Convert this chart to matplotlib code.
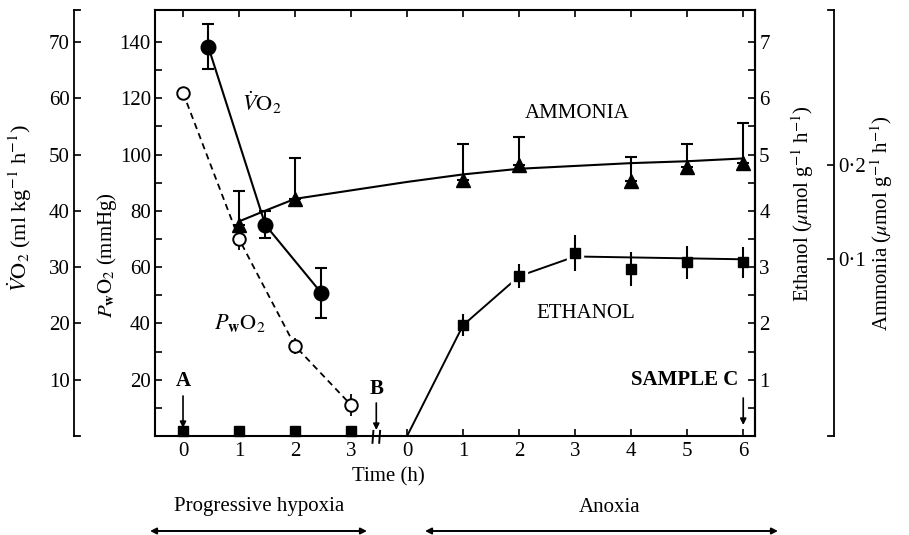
import matplotlib
matplotlib.use('Agg')
import matplotlib.pyplot as plt
from matplotlib.lines import Line2D
import matplotlib.transforms as mtransforms

plt.rcParams['font.family'] = ['Liberation Serif', 'DejaVu Serif']
plt.rcParams['mathtext.fontset'] = 'stix'
plt.rcParams['font.size'] = 15

# ---------------- data ----------------
# x position: hypoxia hours 0-3, anoxia hours drawn after the axis break (anoxia 0 -> 4)
x_ticks = [0, 1, 2, 3, 4, 5, 6, 7, 8, 9, 10]
x_tick_labels = ['0', '1', '2', '3', '0', '1', '2', '3', '4', '5', '6']

# Water PO2 (open circles, mmHg)
pwo2_x = [0, 1, 2, 3]
pwo2 = [122, 70, 32, 11]
pwo2_err = [0, 4, 3, 4]

# O2 uptake (filled circles, ml kg-1 h-1)
vo2_x = [0.45, 1.47, 2.47]
vo2 = [69.2, 37.5, 25.4]
vo2_err = [4.0, 2.4, 4.5]

# Ammonia (filled triangles, umol g-1 h-1)
amm_x = [1, 2, 5, 6, 8, 9, 10]
amm = [0.136, 0.1635, 0.184, 0.200, 0.183, 0.198, 0.202]
amm_err = [0.036, 0.044, 0.038, 0.030, 0.025, 0.024, 0.043]
amm_fit_x = [1, 1.45, 2, 3, 4, 5, 6, 7, 8, 9, 10]
amm_fit = [0.140, 0.151, 0.164, 0.173, 0.182, 0.190, 0.196, 0.199, 0.202, 0.204, 0.207]

# Ethanol (filled squares, umol g-1 h-1)
eth_hyp_x = [0, 1, 2, 3]
eth_hyp = [0.08, 0.08, 0.08, 0.08]
eth_x = [5, 6, 7, 8, 9, 10]
eth = [1.97, 2.84, 3.245, 2.97, 3.085, 3.085]
eth_err = [0.19, 0.21, 0.32, 0.30, 0.29, 0.28]
eth_fit_x = [4, 5, 6, 7, 10]
eth_fit = [0.0, 1.97, 2.84, 3.19, 3.14]

pwo2_ticks = [20, 40, 60, 80, 100, 120, 140]
pwo2_minor = [10, 30, 50, 70, 90, 110, 130]
vo2_ticks = [10, 20, 30, 40, 50, 60, 70]
eth_ticks = [1, 2, 3, 4, 5, 6, 7]
eth_minor = [0.5, 1.5, 2.5, 3.5, 4.5, 5.5, 6.5]
amm_ticks = [0.1, 0.2]
amm_tick_labels = ['0\u00b71', '0\u00b72']

# ---------------- figure ----------------
W, H = 909, 535
fig = plt.figure(figsize=(W / 100, H / 100), dpi=100)
L, R, T, B = 155, 755, 10, 436
ax = fig.add_axes([L / W, 1 - B / H, (R - L) / W, (B - T) / H])

def fx(x):
    return x / W

def fy(y):
    return 1 - y / H

P_TOP = 151.4
ax.set_xlim(-0.5, 10.21)
ax.set_ylim(0, P_TOP)

lw_sp = 1.5
for s in ax.spines.values():
    s.set_linewidth(lw_sp)

ax.set_xticks(x_ticks)
ax.set_xticklabels(x_tick_labels)
ax.set_yticks(pwo2_ticks)
ax.set_yticks(pwo2_minor, minor=True)
ax.tick_params(axis='x', direction='in', top=True, bottom=True, length=5, width=1.2, pad=4)
ax.tick_params(axis='y', which='both', direction='in', left=True, right=False, length=5, width=1.2, pad=3)

# VO2 axis (outer left)
axv = ax.twinx()
axv.set_ylim(0, P_TOP / 2)
axv.patch.set_visible(False)
for k in ['right', 'top', 'bottom']:
    axv.spines[k].set_visible(False)
axv.spines['left'].set_visible(True)
axv.spines['left'].set_position(('axes', (74 - L) / (R - L)))
axv.spines['left'].set_linewidth(1.3)
axv.yaxis.set_ticks_position('left')
axv.set_yticks(vo2_ticks)
axv.tick_params(axis='y', direction='in', length=5, width=1.2, pad=3)

# Ethanol axis (right spine)
axe = ax.twinx()
axe.set_ylim(0, P_TOP / 20)
axe.patch.set_visible(False)
for k in ['left', 'top', 'bottom']:
    axe.spines[k].set_visible(False)
axe.spines['right'].set_linewidth(lw_sp)
axe.set_yticks(eth_ticks)
axe.set_yticks(eth_minor, minor=True)
axe.tick_params(axis='y', which='both', direction='in', length=5, width=1.2, pad=3)

# Ammonia axis (outer right)
axa = ax.twinx()
a_lo = 0.1 + (259 - B) / 940.0
a_hi = 0.1 + (259 - T) / 940.0
axa.set_ylim(a_lo, a_hi)
axa.patch.set_visible(False)
for k in ['left', 'top', 'bottom']:
    axa.spines[k].set_visible(False)
axa.spines['right'].set_position(('axes', (834 - L) / (R - L)))
axa.spines['right'].set_linewidth(1.3)
axa.set_yticks(amm_ticks)
axa.set_yticklabels(amm_tick_labels)
axa.tick_params(axis='y', direction='in', length=5, width=1.2, pad=3)

# bracket serifs on the free-standing axes
xv = (74 - L) / (R - L)
xa = (834 - L) / (R - L)
d = 6 / (R - L)
for yy in (0, 1):
    ax.add_line(Line2D([xv, xv + d], [yy, yy], transform=ax.transAxes, color='black', lw=1.3, clip_on=False))
    ax.add_line(Line2D([xa - d, xa], [yy, yy], transform=ax.transAxes, color='black', lw=1.3, clip_on=False))

# ---------------- data marks ----------------
# PwO2
ax.plot(pwo2_x, pwo2, color='black', lw=1.3, ls=(0, (3.5, 2.5)), zorder=2)
ax.errorbar(pwo2_x, pwo2, yerr=pwo2_err, fmt='none', ecolor='black', elinewidth=1.3, capsize=0, zorder=3)
ax.plot(pwo2_x, pwo2, ls='none', marker='o', ms=9, mfc='white', mec='black', mew=1.4, zorder=4)

# VO2
axv.plot(vo2_x, vo2, color='black', lw=1.5, zorder=2)
axv.errorbar(vo2_x, vo2, yerr=vo2_err, fmt='none', ecolor='black', elinewidth=1.5, capsize=4.5, capthick=1.5)
axv.plot(vo2_x, vo2, ls='none', marker='o', ms=10.5, color='black', zorder=4)

# Ammonia
axa.plot(amm_fit_x, amm_fit, color='black', lw=1.5)
axa.errorbar(amm_x, amm, yerr=[[0] * len(amm_err), amm_err], fmt='none', ecolor='black', elinewidth=1.5,
             capsize=4.5, capthick=1.5)
axa.plot(amm_x, amm, ls='none', marker='^', ms=9.5, color='black')

# Ethanol: fitted line with small gaps at the marked points
axe.plot(eth_fit_x, eth_fit, color='black', lw=1.4)
axe.plot(eth_x[1:3], eth[1:3], ls='none', marker='s', ms=11, color='white', mec='white')
axe.errorbar(eth_x, eth, yerr=eth_err, fmt='none', ecolor='black', elinewidth=1.5, capsize=0)
axe.plot(eth_x, eth, ls='none', marker='s', ms=6.5, color='black')
axe.plot(eth_hyp_x, eth_hyp, ls='none', marker='s', ms=6.5, color='black', clip_on=False)

# ---------------- annotations ----------------
def Pval(ypix):
    return (B - ypix) / ((B - T) / P_TOP)

arrow_kw = dict(arrowstyle='-|>', lw=1.2, color='black', mutation_scale=9, shrinkA=0, shrinkB=0)
ax.text(0, Pval(381), 'A', ha='center', va='center', fontweight='bold', fontsize=15)
ax.annotate('', xy=(0, Pval(428)), xytext=(0, Pval(396)), arrowprops=arrow_kw)
ax.text(3.45, Pval(389), 'B', ha='center', va='center', fontweight='bold', fontsize=15)
ax.annotate('', xy=(3.45, Pval(430)), xytext=(3.45, Pval(403)), arrowprops=arrow_kw)
ax.text(8.96, Pval(380), 'SAMPLE C', ha='center', va='center', fontweight='bold', fontsize=15)
ax.annotate('', xy=(10, Pval(425)), xytext=(10, Pval(398)), arrowprops=arrow_kw)

ax.text(7.03, Pval(113), 'AMMONIA', ha='center', va='center', fontsize=15)
ax.text(7.18, Pval(313), 'ETHANOL', ha='center', va='center', fontsize=15)
ax.text(1.41, Pval(103), r'$\dot{V}\mathrm{O}_2$', ha='center', va='center', fontsize=16)
ax.text(1.02, Pval(323), r'$P_{\mathbf{w}}\mathrm{O}_2$', ha='center', va='center', fontsize=16)

# axis break marks
btr = mtransforms.blended_transform_factory(ax.transData, ax.transAxes)
for xb in (3.39, 3.51):
    ax.add_line(Line2D([xb - 0.008, xb + 0.008], [-0.016, 0.012], transform=btr, color='black', lw=1.4, clip_on=False))

# axis labels
fig.text(fx(20), fy(208), r'$\dot{V}\mathrm{O}_2$ (ml kg$^{-1}$ h$^{-1}$)', rotation=90, ha='center', va='center', fontsize=16)
fig.text(fx(107), fy(255), r'$P_{\mathbf{w}}\mathrm{O}_2$ (mmHg)', rotation=90, ha='center', va='center', fontsize=15)
fig.text(fx(803), fy(204), r'Ethanol ($\mu$mol g$^{-1}$ h$^{-1}$)', rotation=90, ha='center', va='center', fontsize=15)
fig.text(fx(882), fy(223), r'Ammonia ($\mu$mol g$^{-1}$ h$^{-1}$)', rotation=90, ha='center', va='center', fontsize=15)
fig.text(fx(388), fy(477), 'Time (h)', ha='center', va='center', fontsize=15)
fig.text(fx(259), fy(507), 'Progressive hypoxia', ha='center', va='center', fontsize=15)
fig.text(fx(610), fy(507), 'Anoxia', ha='center', va='center', fontsize=15)

dbl = dict(arrowstyle='<|-|>', lw=1.4, color='black', mutation_scale=9, shrinkA=0, shrinkB=0)
fig.add_artist(matplotlib.patches.FancyArrowPatch((fx(150), fy(531)), (fx(367), fy(531)),
                                                  transform=fig.transFigure, **dbl))
fig.add_artist(matplotlib.patches.FancyArrowPatch((fx(425), fy(531)), (fx(778), fy(531)),
                                                  transform=fig.transFigure, **dbl))

fig.savefig('out.png', dpi=100)
